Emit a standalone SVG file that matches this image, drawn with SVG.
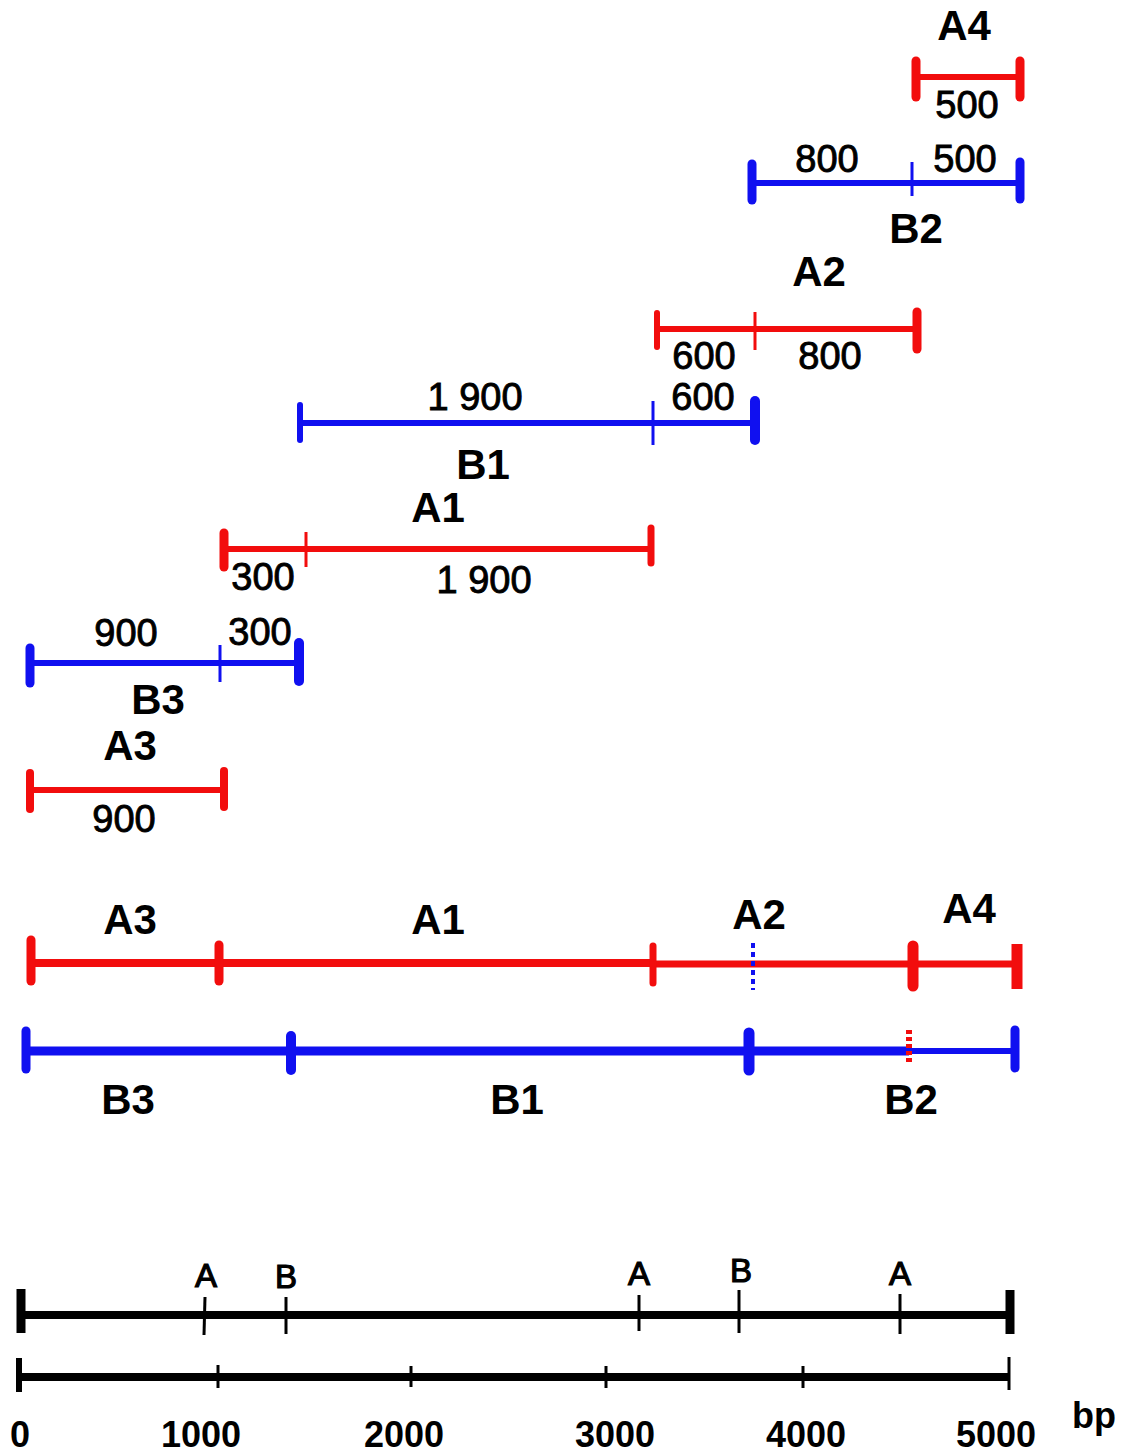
<svg xmlns="http://www.w3.org/2000/svg" width="1121" height="1453" viewBox="0 0 1121 1453">
<style>
.r{stroke:#f20d0d;fill:none}
.b{stroke:#1010f0;fill:none}
.k{stroke:#000;fill:none}
.line{stroke-width:6}
.cap{stroke-width:9;stroke-linecap:round}
.tick{stroke-width:3}
.lbl{font-family:"Liberation Sans",Arial,sans-serif;font-weight:bold;font-size:42px;fill:#000;text-anchor:middle}
.num{font-family:"Liberation Sans",Arial,sans-serif;font-size:38px;fill:#000;stroke:#000;stroke-width:0.9px;text-anchor:middle}
.site{font-family:"Liberation Sans",Arial,sans-serif;font-size:33px;fill:#000;stroke:#000;stroke-width:1.2px;text-anchor:middle}
.scl{font-family:"Liberation Sans",Arial,sans-serif;font-weight:bold;font-size:36px;fill:#000;text-anchor:middle}
</style>
<rect width="1121" height="1453" fill="#fff"/>

<g id="frag-A4">
<line class="r line" x1="916" y1="77" x2="1020" y2="77"/>
<line class="r cap" x1="916" y1="61" x2="916" y2="97"/>
<line class="r cap" x1="1020" y1="61" x2="1020" y2="97"/>
<text class="lbl" x="964" y="40">A4</text>
<text class="num" x="967" y="118">500</text>
</g>

<g id="frag-B2">
<line class="b line" x1="752" y1="183" x2="1020" y2="183"/>
<line class="b cap" x1="752" y1="164" x2="752" y2="200"/>
<line class="b tick" x1="912" y1="162" x2="912" y2="196"/>
<line class="b cap" x1="1020" y1="162" x2="1020" y2="199"/>
<text class="num" x="827" y="172">800</text>
<text class="num" x="965" y="172">500</text>
<text class="lbl" x="916" y="243">B2</text>
</g>

<g id="frag-A2">
<line class="r line" x1="657" y1="329" x2="917" y2="329"/>
<line class="r cap" x1="657" y1="313" x2="657" y2="347" style="stroke-width:6"/>
<line class="r tick" x1="755" y1="312" x2="755" y2="350"/>
<line class="r cap" x1="917" y1="312" x2="917" y2="349"/>
<text class="lbl" x="819" y="286">A2</text>
<text class="num" x="704" y="369">600</text>
<text class="num" x="830" y="369">800</text>
</g>

<g id="frag-B1">
<line class="b line" x1="300" y1="423" x2="755" y2="423"/>
<line class="b cap" x1="300" y1="405" x2="300" y2="440" style="stroke-width:6"/>
<line class="b tick" x1="653" y1="401" x2="653" y2="445"/>
<line class="b cap" x1="755" y1="401" x2="755" y2="440" style="stroke-width:10"/>
<text class="num" x="475" y="410">1 900</text>
<text class="num" x="703" y="410">600</text>
<text class="lbl" x="483" y="479">B1</text>
</g>

<g id="frag-A1">
<line class="r line" x1="224" y1="549" x2="651" y2="549"/>
<line class="r cap" x1="224" y1="533" x2="224" y2="567"/>
<line class="r tick" x1="306" y1="532" x2="306" y2="567"/>
<line class="r cap" x1="651" y1="528" x2="651" y2="563" style="stroke-width:7"/>
<text class="lbl" x="438" y="522">A1</text>
<text class="num" x="263" y="590">300</text>
<text class="num" x="484" y="593">1 900</text>
</g>

<g id="frag-B3">
<line class="b line" x1="30" y1="663" x2="299" y2="663"/>
<line class="b cap" x1="30" y1="648" x2="30" y2="683"/>
<line class="b tick" x1="220" y1="645" x2="220" y2="682"/>
<line class="b cap" x1="299" y1="643" x2="299" y2="681" style="stroke-width:10"/>
<text class="num" x="126" y="646">900</text>
<text class="num" x="260" y="645">300</text>
<text class="lbl" x="158" y="714">B3</text>
</g>

<g id="frag-A3">
<line class="r line" x1="30" y1="790" x2="224" y2="790"/>
<line class="r cap" x1="30" y1="773" x2="30" y2="809" style="stroke-width:8"/>
<line class="r cap" x1="224" y1="771" x2="224" y2="807" style="stroke-width:8"/>
<text class="lbl" x="130" y="760">A3</text>
<text class="num" x="124" y="832">900</text>
</g>

<g id="map-A">
<line class="r" stroke-width="8" x1="31" y1="963" x2="653" y2="963"/>
<line class="r" stroke-width="7" x1="653" y1="964" x2="1017" y2="964"/>
<line class="r cap" x1="31" y1="940" x2="31" y2="981" style="stroke-width:9"/>
<line class="r cap" x1="219" y1="945" x2="219" y2="981" style="stroke-width:9"/>
<line class="r cap" x1="653" y1="946" x2="653" y2="983" style="stroke-width:7"/>
<line class="b" stroke-width="4" stroke-dasharray="5,4" x1="753" y1="943" x2="753" y2="990"/>
<line class="r cap" x1="913" y1="946" x2="913" y2="986" style="stroke-width:11"/>
<line class="r" stroke-width="11" x1="1017" y1="944" x2="1017" y2="989"/>
<text class="lbl" x="130" y="934">A3</text>
<text class="lbl" x="438" y="934">A1</text>
<text class="lbl" x="759" y="929">A2</text>
<text class="lbl" x="969" y="923">A4</text>
</g>

<g id="map-B">
<line class="b" stroke-width="9" x1="26" y1="1051" x2="909" y2="1051"/>
<line class="b" stroke-width="6" x1="909" y1="1051" x2="1015" y2="1051"/>
<line class="b cap" x1="26" y1="1031" x2="26" y2="1069" style="stroke-width:9"/>
<line class="b cap" x1="291" y1="1036" x2="291" y2="1070" style="stroke-width:10"/>
<line class="b cap" x1="749" y1="1033" x2="749" y2="1070" style="stroke-width:11"/>
<line class="r" stroke-width="6" stroke-dasharray="4,3" x1="909" y1="1030" x2="909" y2="1065"/>
<line class="b cap" x1="1015" y1="1030" x2="1015" y2="1068" style="stroke-width:9"/>
<text class="lbl" x="128" y="1114">B3</text>
<text class="lbl" x="517" y="1114">B1</text>
<text class="lbl" x="911" y="1114">B2</text>
</g>

<g id="restriction-map">
<line class="k" stroke-width="8" x1="20" y1="1315" x2="1010" y2="1315"/>
<line class="k" stroke-width="9" x1="21" y1="1289" x2="21" y2="1333"/>
<line class="k" stroke-width="9" x1="1010" y1="1290" x2="1010" y2="1334"/>
<line class="k tick" x1="205" y1="1297" x2="204" y2="1335"/>
<line class="k tick" x1="286" y1="1297" x2="286" y2="1334"/>
<line class="k tick" x1="639" y1="1295" x2="639" y2="1331"/>
<line class="k tick" x1="739" y1="1290" x2="739" y2="1333"/>
<line class="k tick" x1="900" y1="1294" x2="900" y2="1334"/>
<text class="site" x="206" y="1287">A</text>
<text class="site" x="286" y="1288">B</text>
<text class="site" x="639" y="1285">A</text>
<text class="site" x="741" y="1282">B</text>
<text class="site" x="900" y="1285">A</text>
</g>

<g id="scale">
<line class="k" stroke-width="8" x1="18" y1="1377" x2="1009" y2="1377"/>
<line class="k" stroke-width="6" x1="19" y1="1358" x2="19" y2="1392"/>
<line class="k" stroke-width="3" x1="1009" y1="1357" x2="1009" y2="1390"/>
<line class="k tick" x1="218" y1="1365" x2="218" y2="1388"/>
<line class="k tick" x1="411" y1="1366" x2="411" y2="1387"/>
<line class="k tick" x1="606" y1="1366" x2="606" y2="1388"/>
<line class="k tick" x1="803" y1="1366" x2="803" y2="1388"/>
<text class="scl" x="20" y="1447">0</text>
<text class="scl" x="201" y="1447">1000</text>
<text class="scl" x="404" y="1447">2000</text>
<text class="scl" x="615" y="1447">3000</text>
<text class="scl" x="806" y="1447">4000</text>
<text class="scl" x="996" y="1447">5000</text>
<text class="scl" x="1094" y="1428">bp</text>
</g>
</svg>
